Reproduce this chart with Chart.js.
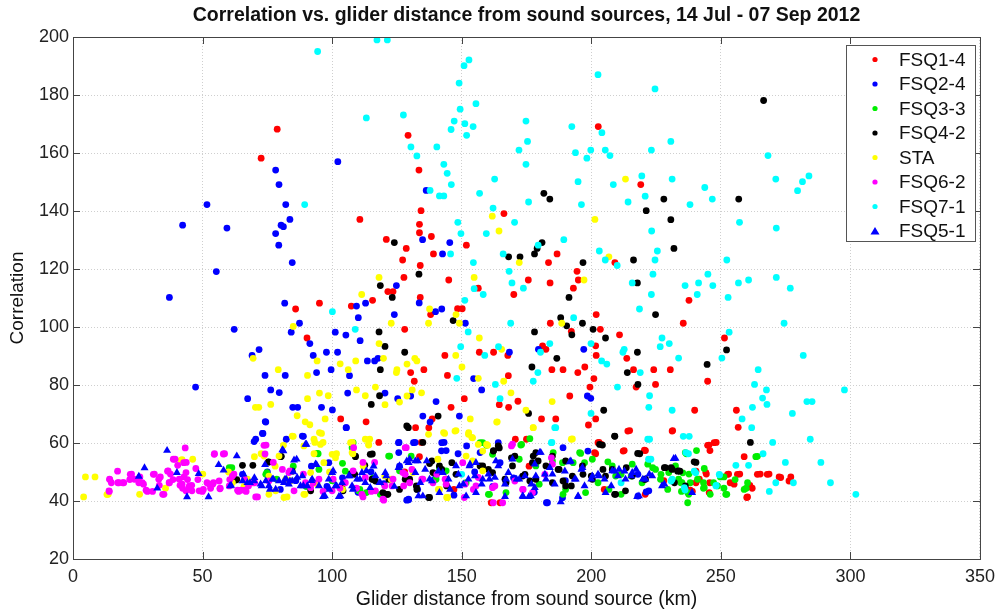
<!DOCTYPE html>
<html>
<head>
<meta charset="utf-8">
<style>
  html, body { margin: 0; padding: 0; background: #fff; }
  #wrap { width: 1002px; height: 614px; }
</style>
<script src="https://cdn.jsdelivr.net/npm/chart.js@4.4.1/dist/chart.umd.min.js"></script>
</head>
<body>
<div id="wrap"><canvas id="chart"></canvas></div>
<script>
// values: [distance km, correlation]
const chartTitle = 'Correlation vs. glider distance from sound sources, 14 Jul - 07 Sep 2012';
const seriesNames = ['FSQ1-4', 'FSQ2-4', 'FSQ3-3', 'FSQ4-2', 'STA', 'FSQ6-2', 'FSQ7-1', 'FSQ5-1'];

const fsq1_4 = [
  [78.8,168.2],[72.6,158.2],[110.7,137.1],[120.9,130.2],
  [129.3,166.1],[133.5,154.1],[134.3,140.1],[133.7,135.4],[133.7,132.5],[138.3,131.2],[128.6,127.1],[127.2,123.1],
  [139.1,125.2],[134.0,121.2],[127.7,117.1],[151.8,128.2],[145.0,116.2],[166.3,139.1],[186.8,125.2],[183.5,122.2],
  [175.7,116.2],[184.1,115.2],[194.5,119.2],[195.0,116.2],[193.1,113.4],[202.7,169.1],[219.1,149.1],[209.1,122.2],[156.4,113.4],
  [85.9,106.2],[95.1,108.2],[107.4,107.2],[115.6,109.2],[90.3,96.2],[103.3,68.3],[113.1,67.3],[118.0,60.2],[121.5,112.2],
  [123.5,112.2],[134.0,110.2],[138.0,104.3],[148.4,106.3],[150.2,106.3],[170.1,111.2],
  [128.0,99.2],[184.2,101.3],[192.3,98.5],[181.2,93.5],[182.5,92.3],[201.9,104.3],[203.5,99.2],[201.7,93.5],[201.9,90.2],
  [210.9,97.3],[213.7,89.2],[216.3,85.3],[217.3,79.3],[224.1,85.3],[230.5,85.3],[224.8,80.2],[143.5,90.2],[162.3,91.3],
  [167.8,90.2],[156.8,91.3],[135.4,85.3],[130.3,84.3],[131.7,81.3],[144.5,83.3],[168.0,83.2],[184.8,85.3],[189.1,85.3],
  [194.8,84.3],[197.5,86.2],[201.0,82.2],[199.5,79.3],[191.7,76.2],[151.0,75.3],[145.9,72.3],[138.6,68.3],[137.3,65.3],
  [132.2,65.3],[168.1,72.3],[171.7,74.4],[164.5,73.2],[180.8,68.3],[186.3,68.3],[198.9,66.2],[201.7,68.3],[214.8,64.3],
  [231.4,64.3],[203.0,60.2],[212.7,57.4],[220.9,57.4],[170.7,61.3],[175.0,61.3],[134.4,60.2],[133.7,55.3],[161.4,39.4],[201.7,56.3],
  [237.7,109.2],[235.5,101.3],[251.4,96.2],[244.9,81.3],[239.9,71.3],[256.0,71.3],[256.7,65.4],[245.4,59.3],[248.2,60.2],
  [245.8,57.4],[259.0,55.3],[244.4,49.3],[253.0,49.3],[257.3,49.3],[265.2,49.3],[268.6,49.3],[272.5,48.3],[277.0,48.3],
  [240.4,46.3],[245.7,46.3],[253.6,46.3],[261.2,45.4],[262.1,44.4],[260.3,41.4],[239.0,43.3],
  [128.0,50.0],[147.0,44.0],[176.0,52.0],[205.0,44.0],[228.0,47.0],
  [164.8,39.4],[201.3,56.7],[202.6,60.1],[203.9,59.5],[212.3,57.2],[214.1,64.1],[220.5,57.5],[231.2,64.1],[238.2,43.7],
  [240.4,50.3],[244.9,59.2],[247.4,60.1],[241.7,47.5],[244.2,49.8],[252.6,49.2],[256.4,49.2],[264.1,49.2],[267.9,49.2],
  [273.1,48.1],[276.3,46.9],[255.1,45.8],[245.5,42.9],[260.0,41.2],[220.8,42.3]
];

const fsq2_4 = [
  [102.2,157.0],[78.2,154.1],[79.5,149.1],[51.7,142.2],[82.1,142.2],[83.7,137.1],[42.3,135.1],[59.4,134.1],[80.3,135.1],
  [81.2,134.6],[78.2,132.2],[79.4,128.2],[84.6,122.2],[55.3,119.1],
  [136.3,147.1],[134.9,130.1],[145.4,129.1],[142.6,125.2],[124.8,114.3],
  [37.2,110.2],[62.2,99.2],[47.3,79.3],[81.7,108.2],[84.2,98.2],[87.4,101.3],[69.1,90.2],[71.8,92.2],[74.1,83.3],[81.9,83.3],
  [76.3,78.3],[79.6,77.4],[67.4,75.3],[84.8,72.3],[86.7,72.3],[74.2,67.4],[73.3,63.3],[70.5,61.3],[88.9,62.3],
  [91.4,94.3],[92.7,90.2],[94.0,84.3],[97.8,91.3],[99.6,85.3],[102.1,91.3],[101.2,98.2],[105.3,97.2],[106.7,83.2],
  [109.4,107.2],[110.1,103.2],[110.8,95.3],[112.9,108.2],[113.6,88.3],[116.4,88.3],[117.7,89.2],[106.0,77.2],[95.9,72.3],
  [100.1,71.4],[105.5,65.3],[120.4,77.2],
  [125.8,60.2],[132.0,60.2],[143.2,60.2],[135.0,69.3],[137.8,67.2],[140.1,74.3],[149.1,69.3],[197.1,92.3],[198.5,76.2],
  [199.8,75.4],[168.4,91.3],[179.6,92.3],[157.7,78.3],[154.6,82.2],[151.4,101.3],[139.9,105.3],[142.3,106.2],[133.6,108.3],
  [124.0,104.3],[125.3,75.3],[130.3,76.2],
  [222.2,43.5],[183.1,39.4],[188.9,41.1],[129.5,40.4],[142.2,57.3],[144.0,57.4],[148.6,56.3],
  [62,48],[68,46],[75,50],[80,44],[86,47],[92,52],[98,45],[104,48],[110,43],[115,50],[120,46],[126,52],[133,44],[140,48],
  [147,42],[155,50],[162,45],[170,48],[178,43],[190,47],
  [69.9,60.5],[73.1,63.3],[74.4,67.2],[82.3,61.3],[88.5,62.4],[98.7,53.2],[105.4,65.3],[125.6,60.1],[131.4,60.1],
  [128.8,40.3],[65.4,49.2],[125.7,56.7],[139.8,47.5],[142.3,60.1],[151.9,59.0],[157.1,56.7],[164.8,53.2],[182.7,39.4],
  [189.1,58.4],[198.7,57.2],[218.0,49.2],[221.2,43.1],[129.5,40.6],[164.1,60.1],[218.0,41.7]
];

const fsq3_3 = [
  [61.3,51.5],[74.8,49.8],[78.6,47.5],[94.6,56.3],[108.1,60.1],[110.7,44.0],[113.2,42.9],[119.6,41.7],
  [122.2,55.5],[130.5,55.5],[141.4,51.5],[144.0,50.4],[158.1,60.1],[161.9,56.1],[172.8,59.3],[172.2,54.4],[178.6,52.1],
  [185.0,53.8],[188.9,53.2],[190.1,44.0],[195.9,56.4],[200.4,54.4],[208.1,52.1],[209.4,48.6],[215.8,52.7],[219.6,46.3],
  [224.8,50.9],[226.7,47.5],[229.9,49.8],[232.5,52.1],[233.7,47.5],[236.3,56.7],[206.8,44.0],[197.8,42.9],[179.9,45.8],
  [167.1,42.9],[160.7,42.3],[151.7,46.3],[140.1,47.5],[126.0,50.4],
  [240.6,57.4],[264.1,55.4],[236.7,56.3],[235.3,49.7],[237.7,49.3],[235.0,46.3],[238.2,46.3],[243.3,46.3],[247.2,46.3],
  [234.8,43.3],[237.6,42.3],[243.3,44.4],[245.9,42.3],[249.8,48.3],[251.2,48.3],[255.5,47.4],[251.2,44.4],[252.3,42.3],
  [259.8,44.4],[237.2,39.4],
  [85,52],[90,45],[100,47],[104,53],[116,48],
  [60.3,51.5],[74.4,49.2],[94.2,56.4],[94.9,50.9],[105.1,50.3],[107.7,58.4],[110.3,43.5],[118.6,42.3],[121.8,55.5],
  [157.1,60.1],[159.6,59.2],[173.1,59.5],[176.3,61.5],[185.3,56.7],[193.0,53.2],[195.5,56.7],[197.4,53.2],[206.4,53.5],
  [211.5,49.2],[215.4,48.6],[223.7,51.5],[226.9,49.2],[229.5,44.0],[234.6,46.3],[237.2,42.9],[241.0,47.5],[243.6,44.6],
  [248.7,45.2],[251.9,42.3],[260.3,46.3],[263.5,55.3],[259.0,44.0],[160.3,42.3],[189.1,42.3],[211.5,42.3],[221.8,52.7],
  [202.6,46.3],[243.6,51.2]
];

const fsq4_2 = [
  [118.6,114.3],
  [124.0,129.1],[133.5,118.2],[181.7,146.1],[184.0,144.1],[181.0,129.1],[179.1,127.1],[178.1,125.2],[168.1,124.2],[172.5,124.2],
  [196.8,122.2],[221.2,140.1],[228.0,144.1],[230.7,137.0],[231.9,127.1],[216.3,123.1],[217.8,115.2],
  [266.5,178.1],[256.9,144.1],
  [118.1,98.3],[120.4,93.3],[118.6,85.3],[118.3,76.3],[115.1,73.3],[69.4,52.3],[75.5,53.5],[80.4,55.4],[63.2,47.4],
  [109.0,55.5],[115.5,56.2],[112.6,52.3],[115.8,47.5],[104.2,43.5],[121.5,42.3],[107.4,49.4],
  [123.2,110.2],[146.7,102.2],[128.0,91.3],[129.4,65.3],[140.9,69.3],[175.8,70.2],[178.1,98.3],[188.2,103.2],[190.5,100.4],
  [192.5,97.3],[196.6,101.3],[191.4,110.2],[200.7,99.2],[205.5,96.2],[186.7,89.2],[177.1,86.2],[217.8,91.3],[213.9,84.3],
  [218.0,80.2],[204.8,71.3],[209.1,62.3],[204.3,59.3],[218.7,56.3],[224.8,104.3],[135.0,60.2],[162.3,57.4],[164.5,58.3],
  [137.6,52.9],[138.9,49.8],[141.4,52.1],[144.0,47.5],[147.8,49.2],[137.6,41.2],[132.5,45.2],[129.9,47.5],[158.1,52.1],
  [161.9,49.8],[167.1,46.3],[169.6,52.1],[173.5,48.6],[177.3,53.2],[178.6,47.5],[182.5,52.1],[185.0,46.3],[187.6,50.9],
  [190.1,45.2],[192.7,48.6],[196.6,52.1],[200.4,47.5],[205.5,48.6],[208.1,50.9],[209.4,42.3],[213.2,43.5],[215.8,48.6],
  [220.9,47.5],[228.6,51.5],[231.2,50.9],[233.7,50.4],[236.3,45.2],[119.6,42.9],[121.9,47.5],[126.0,44.0],[178.6,56.7],
  [185.0,55.5],[190.1,53.8],
  [252.2,92.1],[244.7,87.1],[261.4,60.2],[240.4,53.3],[234.2,50.3],
  [62.8,47.2],[65.4,52.3],[75.4,53.4],[80.1,55.3],[84.6,50.3],[91.7,43.5],[103.8,44.6],[108.7,49.2],[109.0,55.3],
  [114.7,56.1],[115.4,47.5],[116.7,46.9],[121.2,42.3],[128.8,65.9],[128.2,47.5],[132.7,44.0],
  [138.5,53.8],[142.3,50.9],[144.2,45.2],[146.2,53.2],[157.1,52.1],[160.3,50.9],[162.2,57.2],[164.1,59.0],[169.2,54.9],
  [170.5,55.5],[174.4,49.2],[176.3,46.9],[177.6,55.5],[179.5,53.8],[187.2,50.9],[189.1,46.9],[192.3,45.2],[196.8,49.2],
  [200.0,48.6],[203.2,59.5],[204.5,50.9],[209.0,42.3],[213.5,51.5],[217.9,56.4],[220.5,47.5],[228.2,51.5],[230.8,51.5],
  [233.3,50.3],[232.1,46.3],[239.7,53.5],[209.0,62.4],[137.2,41.2],[166.7,47.5]
];

const sta = [
  [118.1,117.1],
  [161.8,138.2],[164.4,133.1],[172.2,122.2],[154.8,117.1],[197.2,116.2],[201.4,137.1],[213.2,151.0],[206.8,124.2],
  [85.0,100.2],[69.5,89.2],[79.2,85.3],[90.5,83.3],[94.2,88.3],[103.1,87.3],[106.2,85.3],[109.1,88.3],[111.4,111.2],
  [118.1,94.3],[119.8,89.2],[116.7,79.3],[120.4,73.2],[112.8,76.3],[109.4,78.3],[95.1,77.2],[98.5,76.3],[90.5,75.3],
  [76.3,73.3],[70.4,72.3],[71.7,72.3],[86.5,69.4],[89.6,67.3],[91.4,66.3],[97.3,68.3],[95.9,63.3],[85.0,62.3],[93.3,60.2],
  [96.5,60.2],[107.8,60.2],[114.1,59.3],[114.5,61.3],[70.0,55.3],[72.6,56.3],[46.2,54.4],[42.1,54.3],[93.0,56.3],[101.7,56.3],
  [108.0,56.3],[4.8,48.3],[8.5,48.3],[4.1,41.4],[13.6,42.3],[25.7,42.3],[35.7,44.4],[50.1,49.3],[82.6,41.4],[75.6,42.3],[89.5,42.3],
  [122.8,101.3],[137.2,101.3],[137.6,106.2],[147.8,104.3],[149.1,101.3],[156.8,96.2],[165.4,92.3],[147.7,90.2],[150.1,86.2],
  [156.4,82.3],[166.2,81.3],[169.0,77.3],[174.8,71.3],[177.6,65.3],[184.9,74.3],[192.7,61.4],[188.6,101.3],[153.3,68.3],
  [152.7,63.6],[154.2,61.8],[147.8,64.3],[143.4,63.3],[163.7,67.3],[134.5,77.3],[130.9,78.3],[128.9,76.2],[124.8,84.3],
  [125.0,85.3],[131.9,89.2],[132.7,88.3],[128.9,87.2],[126.0,74.1],[158.1,57.2],[160.0,59.2],
  [120.3,48.6],[122.8,47.5],[131.2,49.8],[141.4,44.0],[144.6,41.2],[151.7,55.5],[154.2,53.8],[158.1,50.4],[140.8,54.4],
  [60,50],[66,45],[78,52],[84,47],[99,50],[104,44],[112,52],
  [13.1,42.2],[41.7,54.1],[61.5,46.3],[67.3,47.5],[73.7,55.5],[79.5,55.5],[81.2,59.2],[84.6,62.4],[81.4,41.2],[89.1,42.3],
  [89.1,59.0],[93.0,61.3],[95.1,63.6],[95.5,59.5],[96.8,53.2],[100.0,56.1],[101.3,54.9],[107.1,60.1],[107.7,56.7],
  [112.8,61.3],[114.1,59.5],[75.6,48.6],[78.2,43.5],[82.1,47.5],[91.7,49.8],[94.2,45.8],
  [137.2,63.0],[143.0,63.6],[147.4,64.1],[152.6,63.0],[153.9,61.9],[156.4,59.5],[159.6,59.5],[163.5,67.2],[192.3,61.3],
  [141.0,44.0],[144.2,41.2],[177.6,65.3]
];

const fsq6_2 = [
  [43.3,58.3],[39.4,54.4],[43.7,53.3],[54.6,56.3],[58.5,56.3],[74.5,59.3],[17.2,50.3],[14.2,47.4],[14.8,46.3],[17.7,46.3],
  [19.6,46.3],[21.9,47.4],[22.6,49.3],[25.8,48.3],[26.7,46.3],[14.0,43.3],[28.7,43.3],[30.7,43.3],[31.4,49.3],[33.7,48.3],
  [33.3,45.4],[35.1,42.3],[36.7,50.4],[37.6,49.3],[37.1,46.3],[38.6,47.4],[41.3,45.4],[42.8,48.3],[44.2,47.4],[44.8,44.4],
  [45.8,45.4],[42.3,44.4],[48.2,47.4],[49.9,43.3],[51.7,46.3],[53.1,44.4],[54.2,46.3],[56.8,44.4],[60.5,47.4],[62.1,49.3],
  [63.9,43.3],[66.8,43.3],[66.2,47.4],[70.1,46.3],[71.2,41.4],
  [77.3,53.3],[83.7,50.4],[88.9,49.3],[92.7,46.3],[100.4,47.5],[96.5,43.3],[103.0,44.4],[108.1,50.4],[109.4,44.4],
  [111.9,41.4],[115.1,43.3],[119.6,40.6],[120.3,45.2],[116.4,53.3],[111.9,53.3],
  [128.6,58.4],[127.3,49.8],[135.0,47.5],[138.9,46.3],[144.0,45.8],[150.4,53.2],[151.0,41.2],[155.5,45.2],[161.9,44.6],
  [165.8,39.4],[169.6,59.6],[173.5,44.0],[177.3,42.9],[185.0,52.7],[123.5,47.5],[129.9,46.3],
  [13.9,43.5],[14.1,47.5],[17.3,46.3],[19.2,46.3],[22.1,49.2],[23.7,47.5],[25.4,46.3],[27.2,45.8],[28.2,43.7],[31.0,49.2],
  [33.1,47.5],[34.6,42.3],[36.5,50.3],[37.2,46.3],[38.7,54.4],[40.4,52.3],[41.0,47.5],[42.1,45.8],[42.7,53.2],[43.6,49.8],
  [43.6,43.5],[44.9,45.2],[45.9,43.5],[47.4,51.2],[48.7,43.5],[50.3,44.0],[52.6,45.8],[54.5,56.1],[53.9,45.8],[56.4,46.9],
  [56.7,44.2],[58.0,56.2],[60.3,45.2],[61.5,48.6],[63.5,43.7],[64.8,43.7],[66.4,43.7],[67.7,45.2],[69.5,46.3],[70.5,41.4],
  [73.7,59.2],[74.1,56.2],[75.6,46.9],[80.8,50.9],[83.3,49.8],[85.3,43.5],[89.7,46.3],[91.7,44.6],[94.9,47.5],[100.0,43.5],
  [105.1,46.3],[108.3,58.4],[111.5,42.3],[112.8,48.1],[116.7,43.5],[119.9,40.3],[123.1,45.2],[127.6,45.2],[128.2,58.4],
  [130.8,50.9],[128.2,49.2],[134.6,47.5],[140.4,49.2],[143.6,47.5],[151.3,45.8],[154.5,44.0],[156.4,48.1],[162.2,39.4],
  [162.8,45.2],[169.2,59.0],[170.5,46.9],[173.7,44.0],[182.1,49.2],[184.6,54.9]
];

const fsq7_1 = [
  [94.4,195.0],[117.3,199.0],[121.3,199.0],[113.2,172.1],[89.4,142.2],
  [152.8,192.1],[150.9,190.1],[149.0,184.1],[202.6,187.0],[224.6,182.1],[149.4,175.1],[155.5,177.0],[127.5,173.1],[147.1,171.0],
  [145.9,168.1],[151.2,170.1],[154.4,169.1],[151.9,166.1],[174.8,171.0],[175.4,164.0],[172.1,161.0],[174.8,156.1],[192.5,169.1],
  [193.9,160.1],[199.8,161.0],[198.3,158.2],[204.1,167.0],[205.4,161.0],[207.2,159.1],[223.2,161.0],[230.7,164.0],[231.2,151.0],
  [219.5,152.1],[208.5,149.1],[194.9,150.1],[196.2,142.2],[214.2,143.1],[220.8,145.1],[238.1,142.2],[130.4,162.1],[132.7,159.0],
  [140.4,162.1],[143.1,156.1],[144.4,153.0],[146.0,149.1],[137.8,147.1],[141.4,145.2],[143.1,145.2],[162.7,151.0],[156.9,146.1],
  [175.8,143.1],[162.1,141.0],[148.5,136.1],[149.7,132.2],[159.5,132.2],[170.4,136.1],[189.4,130.1],[223.3,133.1],[225.5,126.2],
  [224.6,123.1],[203.1,126.2],[205.4,123.1],[210.0,121.2],[223.8,118.2],[215.8,115.2],[236.2,114.3],[241.4,115.2],[145.7,125.2],
  [154.5,122.2],[168.3,119.2],[169.4,115.2],[179.5,128.2],[166.0,125.2],[173.8,113.4],
  [268.2,159.1],[271.2,151.0],[281.5,150.1],[284.0,152.1],[279.6,147.0],[243.8,148.1],[246.7,144.1],[257.2,136.1],[271.4,134.1],
  [252.3,123.1],[245.0,118.2],[246.9,114.3],[256.8,115.2],[260.7,116.2],[271.4,117.1],[276.8,113.4],
  [100.1,105.3],[108.9,99.2],
  [154.8,113.2],[158.3,111.2],[151.2,109.2],[152.5,98.3],[149.6,93.2],[148.1,82.3],[164.2,93.2],[158.9,90.2],[163.0,80.2],
  [164.8,75.3],[168.9,101.3],[184.0,94.3],[180.4,91.3],[179.4,84.3],[177.6,81.3],[193.2,103.2],[186.3,65.3],[184.8,60.2],
  [199.9,94.3],[199.9,70.2],[204.0,88.3],[206.0,87.2],[210.1,79.3],[212.7,92.3],[212.2,91.3],[218.9,84.3],[218.6,106.2],
  [223.2,111.2],[227.3,96.2],[230.1,94.3],[226.6,93.2],[222.5,76.3],[222.2,72.3],[231.2,71.3],[222.5,61.3],[223.0,54.4],[231.2,47.5],
  [240.9,111.2],[252.8,110.2],[274.4,101.3],[253.2,98.2],[250.4,89.3],[281.8,90.2],[264.4,85.3],[263.0,80.2],[267.6,78.3],
  [266.1,75.5],[267.8,73.3],[297.7,78.3],[283.2,74.3],[285.2,74.3],[277.6,70.2],[262.2,72.3],[258.2,68.3],[261.9,65.3],
  [235.5,62.3],[237.8,62.3],[270.0,60.2],[284.5,61.3],[266.3,56.3],[274.9,53.3],[288.6,53.3],[255.8,52.3],[260.7,52.3],
  [237.5,56.3],[233.7,89.3],[292.3,46.3],[302.1,42.3],[271.2,46.3],[278.0,46.3],[268.7,43.3],[240.3,49.7],[236.2,43.8],
  [249.5,49.0],[248.2,45.4],
  [184.6,60.1],[185.9,65.3],[221.8,61.3],[222.1,54.4],[236.5,56.7],[239.7,50.3],[235.9,44.6],[249.4,49.2],[248.1,45.2],
  [150.0,49.2],[211.5,46.3],[230.8,46.9]
];

const fsq5_1 = [
  [36.3,57.4],[27.6,51.4],[25.4,48.5],[32.5,44.4],[40.1,49.8],[44.0,41.4],[48.5,49.4],[52.3,41.4],[56.2,52.5],[58.1,50.6],
  [63.2,55.5],[61.0,45.4],[65.8,49.2],[68.3,46.3],[72.8,45.2],[74.1,52.5],[77.3,47.5],[81.2,57.3],[81.8,47.5],[83.7,46.9],
  [86.3,54.4],[90.1,59.5],[88.9,45.2],[94.0,52.5],[97.2,41.7],[100.4,50.4],[103.2,41.7],[101.7,45.2],[106.8,48.6],[110.7,47.5],
  [113.2,50.4],[118.3,46.3],[120.9,48.6],
  [126.0,52.1],[129.9,54.4],[133.1,53.8],[135.0,41.7],[137.6,47.5],[142.7,49.8],[147.8,52.1],[153.0,52.1],[155.5,42.9],
  [155.5,53.2],[160.7,47.5],[163.2,53.8],[167.1,47.5],[169.6,54.4],[173.5,41.7],[176.7,41.7],[178.6,48.6],[180.5,56.7],
  [182.5,47.5],[185.0,49.2],[188.2,39.7],[192.1,53.8],[194.0,47.5],[194.9,41.7],[196.6,51.5],[200.4,48.6],[203.0,48.6],
  [205.5,42.9],[208.1,50.4],[210.7,50.9],[213.2,47.5],[215.8,49.8],[218.4,41.7],[220.9,47.5],[223.5,48.6],[227.3,45.2],
  [232.5,54.7],[238.9,42.9],[141.4,42.9],[149.1,45.2],[151.7,41.7],[158.1,47.5],[172.2,47.5],
  [70,48],[76,44],[85,50],[92,47],[99,44],[108,44],[116,52],[124,45],
  [60.6,45.2],[65.4,46.9],[67.3,46.3],[69.9,46.9],[72.4,45.8],[74.4,46.9],[75.6,45.2],[76.9,47.5],[78.2,44.0],[79.5,46.9],
  [80.8,57.6],[81.4,46.3],[82.3,47.5],[83.3,45.8],[84.6,46.9],[85.3,54.1],[86.5,48.1],[87.8,45.2],[88.5,48.6],[89.7,59.5],
  [90.4,45.2],[92.3,47.5],[93.6,52.7],[94.9,45.2],[96.5,41.5],[98.7,47.5],[100.0,49.8],[101.3,45.2],[102.6,41.5],[103.8,46.3],
  [106.4,48.6],[107.7,45.2],[109.6,47.5],[111.5,49.8],[112.8,46.3],[114.7,44.6],[116.7,48.6],[118.6,46.3],[120.5,49.8],
  [125.6,51.5],[128.8,53.8],[132.1,49.8],[132.1,53.8],
  [129.5,53.2],[135.9,50.9],[136.5,53.8],[138.5,46.9],[141.0,50.3],[144.9,47.5],[145.5,44.0],[148.7,49.2],[150.6,45.8],
  [152.6,47.5],[153.2,52.7],[155.1,48.6],[157.7,45.8],[160.3,49.2],[162.8,48.1],[164.1,52.1],[166.7,45.8],[168.0,49.8],
  [171.2,47.5],[174.4,48.6],[176.9,45.8],[178.2,52.7],[180.1,56.7],[178.2,44.6],[182.1,49.2],[184.0,51.5],[185.9,45.8],
  [189.8,50.3],[191.7,53.5],[193.6,47.5],[196.2,50.9],[197.4,45.2],[200.0,47.5],[202.6,49.2],[205.1,47.5],[207.7,45.2],
  [209.0,50.3],[210.3,48.6],[212.8,50.3],[215.4,48.6],[217.3,50.9],[217.7,41.5],[219.9,47.5],[222.4,49.2],[228.2,45.8],
  [231.8,54.6],[133.3,41.7],[134.0,46.3],[166.7,41.5],[173.7,41.5],[175.9,41.5],[194.9,41.5]
];

const seriesData = [fsq1_4, fsq2_4, fsq3_3, fsq4_2, sta, fsq6_2, fsq7_1, fsq5_1];
const seriesColors = ['#ff0000', '#0000ff', '#00ee00', '#000000', '#ffff00', '#ff00ff', '#00ffff', '#0000ff'];
const seriesShapes = ['circle', 'circle', 'circle', 'circle', 'circle', 'circle', 'circle', 'triangle'];

const FONT = '"Liberation Sans", Arial, sans-serif';

// inward tick marks, box, title and legend, like the original figure
const frame = {
  id: 'frame',
  afterDraw(chart) {
    const { ctx, chartArea: a, scales: { x, y } } = chart;
    ctx.save();
    ctx.strokeStyle = '#444';
    ctx.lineWidth = 1;
    ctx.strokeRect(a.left + 0.5, a.top + 0.5, a.right - a.left, a.bottom - a.top);
    ctx.beginPath();
    x.ticks.forEach(t => {
      const px = Math.round(x.getPixelForValue(t.value)) + 0.5;
      ctx.moveTo(px, a.bottom); ctx.lineTo(px, a.bottom - 7);
      ctx.moveTo(px, a.top); ctx.lineTo(px, a.top + 7);
    });
    y.ticks.forEach(t => {
      const py = Math.round(y.getPixelForValue(t.value)) + 0.5;
      ctx.moveTo(a.left, py); ctx.lineTo(a.left + 7, py);
      ctx.moveTo(a.right, py); ctx.lineTo(a.right - 7, py);
    });
    ctx.stroke();

    ctx.fillStyle = '#111';
    ctx.font = 'bold 19.5px ' + FONT;
    ctx.textAlign = 'center';
    ctx.textBaseline = 'middle';
    ctx.fillText(chartTitle, (a.left + a.right) / 2, 16);

    // legend box
    const bx = 846, by = 45, bw = 129, bh = 196, row = 24.5;
    ctx.fillStyle = '#fff';
    ctx.fillRect(bx, by, bw, bh);
    ctx.strokeStyle = '#555';
    ctx.strokeRect(bx + 0.5, by + 0.5, bw, bh);
    ctx.font = '19px ' + FONT;
    ctx.textAlign = 'left';
    seriesNames.forEach((name, i) => {
      const cy = by + 14.5 + i * row;
      ctx.fillStyle = seriesColors[i];
      ctx.beginPath();
      if (seriesShapes[i] === 'triangle') {
        ctx.moveTo(875, cy - 4); ctx.lineTo(879.5, cy + 3.5); ctx.lineTo(870.5, cy + 3.5); ctx.closePath();
      } else {
        ctx.arc(875, cy, 2.6, 0, Math.PI * 2);
      }
      ctx.fill();
      ctx.fillStyle = '#111';
      ctx.fillText(name, 899, cy + 1);
    });
    ctx.restore();
  }
};

new Chart(document.getElementById('chart'), {
  type: 'scatter',
  data: {
    datasets: seriesNames.map((name, i) => ({
      label: name,
      data: seriesData[i].map(p => ({ x: p[0], y: p[1] })),
      pointStyle: seriesShapes[i],
      pointRadius: seriesShapes[i] === 'triangle' ? 4.6 : 3.4,
      pointBackgroundColor: seriesColors[i],
      pointBorderColor: seriesColors[i],
      pointBorderWidth: 0,
      order: seriesNames.length - i
    }))
  },
  plugins: [frame],
  options: {
    responsive: true,
    maintainAspectRatio: false,
    animation: false,
    layout: { padding: { top: 37, right: 20, left: 0, bottom: 0 } },
    plugins: {
      legend: { display: false },
      tooltip: { enabled: false }
    },
    scales: {
      x: {
        type: 'linear',
        min: 0,
        max: 350,
        ticks: { stepSize: 50, color: '#222', padding: 7, font: { family: FONT, size: 18 } },
        grid: { color: '#cfcfcf', drawTicks: false },
        border: { display: false, dash: [1, 2] },
        title: { display: true, text: 'Glider distance from sound source (km)', color: '#111',
                 font: { family: FONT, size: 19.5 }, padding: { top: 0, bottom: 3 } },
        afterFit: s => { s.height = 55; }
      },
      y: {
        type: 'linear',
        min: 20,
        max: 200,
        ticks: { stepSize: 20, color: '#222', padding: 4, font: { family: FONT, size: 18 } },
        grid: { color: '#cfcfcf', drawTicks: false },
        border: { display: false, dash: [1, 2] },
        title: { display: true, text: 'Correlation', color: '#111',
                 font: { family: FONT, size: 19 }, padding: { top: 6, bottom: 0 } },
        afterFit: s => { s.width = 73; }
      }
    }
  }
});
</script>
</body>
</html>
